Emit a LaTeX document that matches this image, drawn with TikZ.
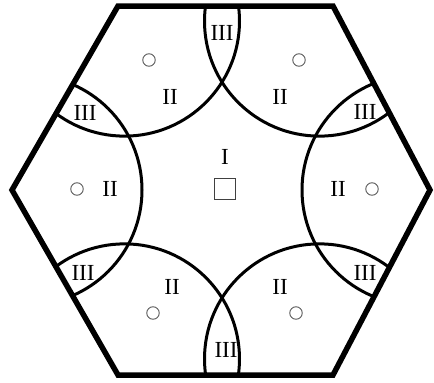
\documentclass[tikz,border=0pt]{standalone}
\usepackage{fontspec}
\setmainfont{Liberation Serif}
\begin{document}
\begin{tikzpicture}[x=1pt,y=-1pt,
  lbl/.style={font=\fontsize{23}{23}\selectfont, inner sep=0pt},
  zone/.style={line width=3pt},
  hexline/.style={line width=5.5pt, line join=miter},
  dotmark/.style={circle, draw=black!65, line width=0.9pt, minimum size=12.5pt, inner sep=0pt},
  sqmark/.style={draw=black!75, line width=1.1pt, minimum size=21pt, inner sep=0pt}]
\useasboundingbox (0,0) rectangle (434,383);
\coordinate (TL) at (118,6);
\coordinate (TR) at (333,6);
\coordinate (R) at (430,190);
\coordinate (BR) at (333,375);
\coordinate (BL) at (118,375);
\coordinate (L) at (12,190);
\begin{scope}
  \clip (TL)--(TR)--(R)--(BR)--(BL)--(L)--cycle;
  \foreach \a in {0,60,...,300}
    \draw[zone,shift={(222,190)}] (\a:195) circle (115);
\end{scope}
\draw[hexline] (TL)--(TR)--(R)--(BR)--(BL)--(L)--cycle;
% zone III labels
\node[lbl] (t3a) at (222,33) {III};
\node[lbl] (t3b) at (226,350) {III};
\node[lbl] (t3c) at (85,113) {III};
\node[lbl] (t3d) at (365,112) {III};
\node[lbl] (t3e) at (83,273) {III};
\node[lbl] (t3f) at (365,273) {III};
% zone II labels
\node[lbl] (t2a) at (170,97) {II};
\node[lbl] (t2b) at (280,97) {II};
\node[lbl] (t2c) at (110,189) {II};
\node[lbl] (t2d) at (338,189) {II};
\node[lbl] (t2e) at (172,287) {II};
\node[lbl] (t2f) at (280,287) {II};
% zone I
\node[lbl] (t1) at (225,157) {I};
\node[sqmark] (sq) at (225,189) {};
% small circles
\node[dotmark] (d1) at (149,60) {};
\node[dotmark] (d2) at (299,60) {};
\node[dotmark] (d3) at (77,189) {};
\node[dotmark] (d4) at (372,189) {};
\node[dotmark] (d5) at (153,313) {};
\node[dotmark] (d6) at (296,313) {};
\end{tikzpicture}
\end{document}
